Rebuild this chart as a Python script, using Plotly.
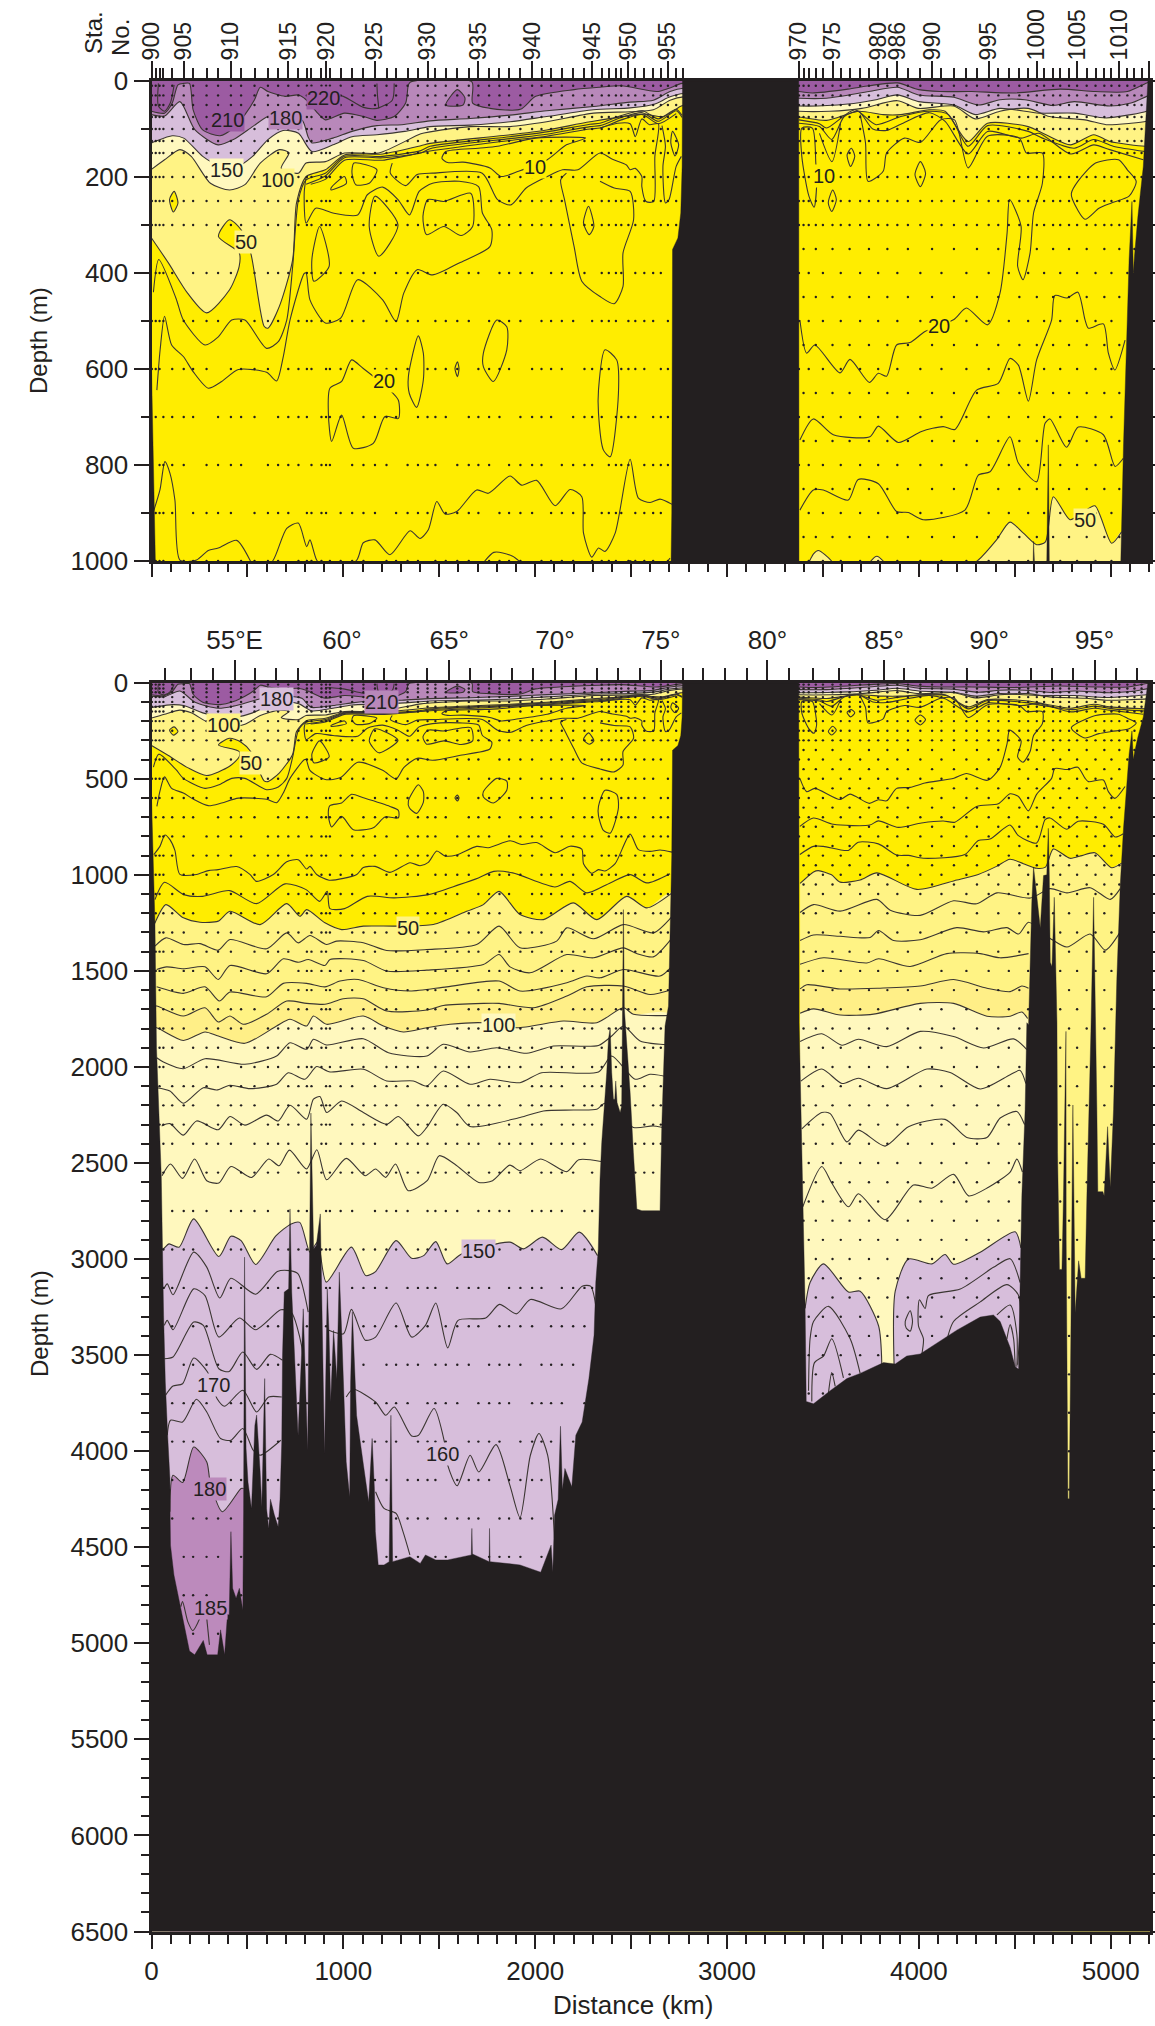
import numpy as np
import plotly.graph_objects as go

W, H = 1155, 2026
INK = "#231F20"
C_DEEP, C_MID, C_LILAC, C_CREAM, C_LT, C_LT2, C_YEL, C_P180 = (
    "#9C5BA2", "#B888BA", "#D7BEDB", "#FFF8BE", "#FFF384", "#FFEF87", "#FFED00", "#BC8ABC")

# station ticks (km along the section)
station_major_km = [2, 168, 414, 713, 910, 1165, 1439, 1704, 1984, 2297, 2486, 2692,
                    3375, 3550, 3788, 3888, 4069, 4364, 4615, 4825, 5045, 5198]
station_major_txt = ["900", "905", "910", "915", "920", "925", "930", "935", "940", "945", "950", "955",
                     "970", "975", "980", "986", "990", "995", "1000", "1005", "1010", "1014"]
station_minor_km = [22, 42, 62, 108, 217, 287, 347, 467, 537, 607, 660, 766, 810, 834, 886, 930, 986, 1046, 1105,
                    1225, 1275, 1335, 1389, 1480, 1534, 1594, 1654, 1760, 1814, 1864, 1923, 2033, 2083, 2139, 2198,
                    2257, 2347, 2384, 2421, 2449, 2522, 2569, 2615, 2655, 2735, 2772,
                    3399, 3426, 3463, 3500, 3593, 3639, 3694, 3740, 3836, 3943, 4008, 4118, 4183, 4248, 4303,
                    4414, 4469, 4524, 4570, 4653, 4700, 4737, 4783, 4875, 4921, 4967, 5004, 5087, 5124, 5161]
lon_major_km = [433, 993, 1552, 2103, 2655, 3211, 3819, 4367, 4916]
lon_major_txt = ["55°E", "60°", "65°", "70°", "75°", "80°", "85°", "90°", "95°"]
lon_minor_km = [72, 207, 321, 541, 650, 762, 880, 1101, 1211, 1325, 1438, 1658, 1770, 1879, 1987, 2212, 2322, 2433,
                2544, 2768, 2877, 2990, 3103, 3324, 3449, 3585, 3703, 3925, 4036, 4146, 4250, 4473, 4584, 4695,
                4806, 5027, 5137]

# sea floor (km, m)
bottom_km = [0, 5, 12, 18, 26, 36, 51, 63, 72, 85, 96, 97, 99, 117, 153, 198, 225, 250, 270, 290, 320, 345, 360, 381,
             396, 405, 414, 423, 441, 458, 476, 480, 485, 493, 503, 521, 539, 548, 566, 575, 590, 600, 611, 620, 640,
             660, 670, 679, 683, 692, 715, 722, 731, 745, 764, 782, 791, 814, 830, 831, 845, 859, 880, 889, 902, 916,
             925, 934, 949, 966, 979, 993, 1015, 1033, 1038, 1047, 1069, 1105, 1132, 1150, 1162, 1167, 1182, 1212,
             1239, 1248, 1257, 1347, 1401, 1428, 1482, 1544, 1667, 1670, 1673, 1760, 1762, 1765, 1921, 2029, 2083,
             2092, 2101, 2120, 2132, 2142, 2155, 2191, 2212, 2245, 2280, 2307, 2316, 2329, 2334, 2338, 2347, 2364,
             2373, 2382, 2391, 2399, 2408, 2415, 2420, 2427, 2443, 2451, 2455, 2460, 2465, 2477, 2495, 2512, 2530,
             2556, 2651, 2660, 2677, 2695, 2705, 2712, 2716, 2744, 2759, 2766, 2768, 3374,
             3376, 3390, 3395, 3407, 3413, 3451, 3538, 3625, 3694, 3816, 3877, 3937, 4007, 4094, 4198, 4320, 4389,
             4424, 4476, 4502, 4520, 4528, 4537, 4554, 4563, 4572, 4589, 4598, 4633, 4650, 4667, 4675, 4680, 4685,
             4694, 4706, 4720, 4723, 4733, 4746, 4754, 4767, 4768, 4777, 4784, 4793, 4803, 4815, 4827, 4833, 4846,
             4867, 4876, 4885, 4897, 4911, 4923, 4928, 4933, 4959, 4966, 4977, 4984, 4998, 5015, 5032, 5050, 5067,
             5085, 5096, 5111, 5118, 5124, 5142, 5170, 5188, 5194, 5210]
bottom_m = [600, 800, 1050, 1250, 1900, 2200, 2566, 3293, 3640, 3934, 4142, 4333, 4489, 4644, 4818, 5040, 5060, 5020,
            4985, 5060, 5060, 5060, 4930, 5060, 4850, 4852, 4419, 4714, 4765, 4714, 4826, 4315, 2990, 3986, 4160, 4298,
            3865, 3812, 4100, 4290, 3622, 4300, 4402, 4250, 4330, 4393, 4250, 3952, 3500, 3172, 3155, 2739, 3172, 3500,
            3917, 3500, 3259, 3995, 2462, 2240, 2947, 2930, 2765, 3207, 4012, 3155, 3371, 3744, 3371, 3623, 3068, 3423,
            4055, 4237, 3640, 3276, 3813, 4073, 4263, 3934, 4194, 4419, 4592, 4592, 4575, 3813, 4575, 4549, 4584, 4540,
            4566, 4566, 4540, 4402, 4535, 4575, 4402, 4575, 4592, 4630, 4489, 4627, 4333, 4250, 3870, 4200, 4090, 4185,
            3917, 3848, 3623, 3397, 3120, 2947, 2600, 2584, 2393, 2168, 2029, 1856, 1796, 2029, 2168, 2168, 2073, 2185,
            2237, 2203, 1787, 1181, 1700, 1856, 2133, 2445, 2740, 2748, 2748, 2307, 1787, 1683, 1100, 900, 351, 327,
            275, 178, 0, 0,
            1770, 2446, 2784, 3235, 3741, 3753, 3685, 3622, 3595, 3539, 3546, 3505, 3494, 3437, 3370, 3302, 3291,
            3325, 3460, 3561, 3572, 3122, 2671, 2221, 1770, 1781, 1139, 959, 1275, 1004, 1000, 758, 1000, 1455,
            1477, 1117, 1770, 2446, 3054, 3054, 2671, 1815, 2897, 4248, 4248, 3347, 2198, 3280, 3122, 3009, 3100,
            3100, 2671, 2221, 1815, 1117, 1815, 2221, 2649, 2649, 2671, 2446, 2311, 2626, 2221, 1545, 1049, 756,
            520, 372, 251, 400, 365, 282, 178, 39, 0, 0]

# colour band edges in the upper layer (km, m): west part followed by east part
b210_km = [0, 68, 108, 138, 168, 198, 217, 267, 357, 427, 487, 537, 567, 607, 696, 766, 806, 866, 906, 1006, 1105, 1175,
           1265, 1325, 1339, 1350, 1670, 1674, 1764, 1923, 2003, 2203, 2338, 2449, 2634, 2698, 2768,
           3375, 3445, 3630, 3740, 3888, 3999, 4109, 4275, 4497, 4737, 4921, 5087, 5188, 5205]
b210_m = [63, 67, 46, 8, 5, 5, 60, 102, 114, 98, 70, 39, 13, 22, 32, 29, 39, 67, 81, 67, 74, 82,
          74, 46, 8, 2, 2, 46, 57, 59, 32, 18, 13, 10, 22, 15, 5,
          22, 25, 17, 10, 4, 18, 22, 22, 25, 17, 22, 22, 4, 2]
b180_km = [0, 68, 148, 227, 347, 427, 527, 607, 696, 786, 816, 836, 946, 1045, 1175, 1305, 1452, 1661, 1869, 2060, 2304,
           2495, 2616, 2703, 2773, 3375, 3519, 3740, 3888, 3999, 4183, 4312, 4423, 4552, 4700, 4810, 4995, 5106, 5188, 5205]
b180_m = [70, 73, 43, 102, 133, 122, 95, 74, 70, 82, 116, 129, 119, 105, 93, 91, 83, 78, 71, 62, 53, 44, 40, 22, 15,
          36, 36, 22, 13, 29, 34, 50, 39, 39, 51, 43, 52, 46, 32, 30]
b150_km = [0, 18, 108, 168, 267, 347, 447, 527, 607, 686, 766, 836, 946, 1045, 1175, 1320, 1452, 1661, 1869, 2060, 2304,
           2495, 2616, 2703, 2773, 3375, 3630, 3777, 3888, 3999, 4183, 4294, 4423, 4626, 4810, 4976, 5106, 5188, 5205]
b150_m = [129, 126, 114, 119, 157, 175, 178, 157, 122, 103, 109, 147, 133, 116, 112, 105, 95, 92, 85, 74, 60, 56, 49,
          33, 26, 52, 48, 39, 29, 43, 50, 70, 57, 67, 67, 77, 70, 63, 60]
b100_km = [0, 68, 148, 207, 307, 407, 487, 567, 667, 716, 676, 766, 806, 906, 1006, 1185, 1404, 1452, 1661, 1869, 2060,
           2304, 2495, 2616, 2703, 2773, 3375, 3537, 3703, 3888, 3999, 4183, 4294, 4423, 4570, 4681, 4866, 4976, 5106,
           5188, 5205]
b100_m = [184, 164, 143, 157, 213, 227, 216, 171, 143, 150, 182, 192, 171, 168, 150, 150, 110, 106, 95, 95, 85, 67, 64,
          60, 40, 33, 63, 63, 57, 41, 57, 52, 79, 63, 57, 74, 81, 91, 88, 84, 82]
b50_km = [0, 88, 188, 287, 407, 457, 457, 349, 407, 467, 517, 587, 607, 667, 736, 756, 806, 906, 1006, 1205, 1404, 1452,
          1869, 2060, 2286, 2564, 2669, 2756, 2773, 3375, 3519, 3685, 3814, 3906, 4054, 4137, 4257, 4358, 4570, 4663,
          4792, 4912, 4995, 5179, 5205]
b50_m = [327, 379, 442, 483, 435, 386, 358, 324, 289, 310, 358, 511, 515, 469, 372, 254, 199, 185, 154, 152, 135, 130,
         112, 102, 85, 69, 74, 53, 51, 75, 82, 63, 70, 70, 60, 63, 126, 88, 95, 112, 133, 112, 126, 136, 136]

# deep colour band edges
d50w_km = [0, 18, 75, 166, 253, 348, 409, 566, 705, 774, 809, 904, 991, 1104, 1278, 1469, 1643, 1730, 1812, 1921, 2043,
           2199, 2321, 2477, 2582, 2714]
d50w_m = [1300, 1250, 1155, 1224, 1247, 1241, 1190, 1259, 1150, 1216, 1181, 1250, 1285, 1267, 1267, 1259, 1190, 1155,
          1086, 1207, 1233, 1146, 1233, 1112, 1172, 1094]
d50e_km = [3381, 3451, 3476, 3545, 3590, 3694, 3781, 3990, 4198, 4310, 4405, 4475, 4545, 4614, 4660, 4701, 4788, 4850,
           4918, 5005, 5057]
d50e_m = [1045, 985, 978, 1000, 1038, 1027, 990, 1076, 1027, 998, 956, 919, 942, 966, 960, 866, 914, 900, 885, 963, 939]
d90w_km = [0, 27, 166, 279, 348, 409, 479, 600, 705, 809, 904, 1000, 1104, 1226, 1435, 1521, 1730, 1812, 1991, 2165, 2269,
           2460, 2599, 2714]
d90w_m = [1683, 1683, 1735, 1692, 1766, 1735, 1778, 1726, 1657, 1669, 1674, 1645, 1645, 1709, 1704, 1680, 1669, 1669,
          1692, 1631, 1583, 1579, 1623, 1597]
d90e_km = [3381, 3416, 3590, 3798, 4007, 4181, 4355, 4476, 4537, 4572]
d90e_m = [1594, 1572, 1594, 1590, 1579, 1545, 1590, 1608, 1579, 1590]
d100w_km = [0, 27, 166, 279, 348, 487, 652, 722, 809, 844, 913, 1104, 1209, 1313, 1435, 1556, 1730, 1904, 2147, 2321,
            2460, 2512, 2714]
d100w_m = [1796, 1796, 1862, 1818, 1839, 1877, 1787, 1752, 1787, 1735, 1778, 1735, 1787, 1818, 1796, 1778, 1770, 1796,
           1761, 1770, 1692, 1726, 1732]
d100e_km = [3381, 3451, 3590, 3764, 4007, 4181, 4355, 4476, 4537, 4567]
d100e_m = [1721, 1698, 1730, 1725, 1669, 1669, 1736, 1736, 1714, 1748]
d150w_km = [0, 60, 91, 144, 220, 351, 414, 467, 543, 647, 728, 773, 826, 866, 911, 1042, 1117, 1168, 1275, 1356, 1419,
            1482, 1541, 1616, 1868, 1939, 2038, 2137, 2230, 2325]
d150w_m = [2960, 2947, 2921, 2938, 2791, 2987, 2881, 2904, 3028, 2881, 2817, 2809, 2964, 2912, 3120, 2938, 3086, 3065,
           2904, 2996, 2982, 2909, 3025, 2973, 2912, 2947, 2886, 2951, 2860, 2982]
d150e1_km = [3407, 3433, 3503, 3633, 3694, 3790, 3807]
d150e1_m = [3257, 3122, 3025, 3172, 3167, 3347, 3550]
d150e2_km = [3871, 3877, 3946, 4068, 4137, 4181, 4320, 4502, 4532]
d150e2_m = [3550, 3167, 3000, 3025, 2976, 3027, 2964, 2858, 2942]
d180_km = [96, 112, 162, 220, 288, 306, 369, 467, 480]
d180_m = [4315, 4125, 4163, 3978, 4056, 4160, 4315, 4194, 4194]

# yellow spot in the light yellow layer, dark purple spot in the top layer
spot_y_km = [118, 138, 114, 94, 118]
spot_y_m = [230, 254, 273, 247, 230]
spot_p_km = [1534, 1594, 1634, 1624, 1534]
spot_p_m = [50, 18, 35, 50, 50]

# plain contours, upper layer west
c40w_km = [10, 38, 128, 166, 279, 348, 418, 487, 600, 661, 705, 736, 766, 806, 906, 1006, 1205, 1404, 1452, 1869, 2060,
           2286, 2338, 2449, 2559, 2642, 2735, 2766]
c40w_m = [440, 372, 453, 498, 550, 533, 498, 498, 557, 543, 498, 386, 247, 206, 192, 157, 157, 145, 136, 116, 106, 90,
          88, 72, 62, 79, 59, 72]
c30w_km = [806, 906, 1006, 1205, 1404, 1452, 1869, 2060, 2286, 2338, 2449, 2559, 2642, 2735, 2766]
c30w_m = [215, 198, 160, 160, 150, 141, 120, 111, 95, 93, 76, 66, 84, 62, 76]
c25w_km = [830, 906, 1006, 1205, 1452, 1869, 2060, 2286, 2338, 2449, 2559, 2642, 2735]
c25w_m = [215, 205, 165, 165, 146, 124, 115, 100, 98, 81, 70, 89, 68]
c20w_km = [28, 45, 68, 105, 166, 218, 296, 366, 453, 600, 652, 687, 722, 796, 806, 826, 906, 986, 1075, 1205, 1275, 1315,
           1385, 1465, 1604, 1764, 1774, 1725, 1705, 1604, 1465, 1395, 1345, 1285, 1205, 1125, 1075, 946, 856, 806, 796, 806]
c20w_m = [644, 560, 490, 550, 574, 606, 640, 626, 601, 607, 625, 574, 498, 401, 400, 456, 504, 494, 414, 456, 501, 442,
          393, 404, 379, 345, 310, 275, 220, 209, 213, 230, 279, 247, 221, 237, 279, 275, 265, 296, 234, 199]
c10a_km = [1514, 1534, 1704, 1804, 2003, 2263, 2163, 2063, 1913, 1823, 1764, 1624, 1544, 1514]
c10a_m = [161, 147, 140, 136, 119, 119, 133, 164, 188, 199, 181, 169, 170, 161]
c15a_km = [1255, 1245, 1325, 1385, 1465, 1724, 1804, 1874, 1953, 2063, 2143, 2223, 2338, 2403, 2476, 2495, 2522, 2556,
           2556, 2578, 2618, 2624, 2642, 2596, 2556, 2522, 2495, 2430, 2338]
c15a_m = [171, 192, 218, 195, 192, 192, 247, 258, 223, 199, 185, 185, 150, 163, 175, 185, 182, 199, 220, 251, 251, 157,
          89, 91, 79, 116, 89, 88, 98]
c15b_km = [2163, 2133, 2153, 2203, 2243, 2338, 2412, 2458, 2458, 2513, 2495, 2412, 2338]
c15b_m = [192, 206, 247, 345, 417, 449, 464, 428, 358, 289, 230, 223, 209]
c15c_km = [2661, 2679, 2666, 2679, 2698, 2735, 2762]
c15c_m = [93, 136, 178, 254, 247, 178, 157]
loop1_km = [1055, 1175, 1135, 1065, 1045, 1055]
loop1_m = [171, 185, 213, 216, 192, 171]
loop2_km = [936, 1006, 1016, 936, 936]
loop2_m = [223, 199, 213, 227, 223]
loop3_km = [1165, 1285, 1185, 1135, 1165]
loop3_m = [240, 300, 365, 303, 240]
loop4_km = [1415, 1441, 1524, 1664, 1674, 1614, 1524, 1434, 1415]
loop4_m = [282, 247, 251, 234, 303, 322, 303, 320, 282]
loop5_km = [876, 926, 846, 836, 876]
loop5_m = [303, 386, 417, 372, 303]
loop6_km = [2278, 2306, 2282, 2252, 2278]
loop6_m = [261, 303, 320, 296, 261]
loop7_km = [2716, 2748, 2729, 2707, 2716]
loop7_m = [105, 133, 156, 129, 105]
loop8_km = [930, 991, 1043, 1104, 1243, 1287, 1287, 1217, 1156, 1052, 991, 939, 922, 930]
loop8_m = [640, 626, 581, 599, 644, 665, 703, 699, 755, 765, 696, 751, 692, 640]
loop9_km = [2330, 2364, 2425, 2434, 2391, 2356, 2330, 2330]
loop9_m = [644, 560, 581, 651, 783, 769, 692, 644]
loop10_km = [1730, 1800, 1852, 1852, 1782, 1730, 1730]
loop10_m = [567, 498, 512, 560, 626, 595, 567]
loop11_km = [1339, 1391, 1417, 1417, 1382, 1344, 1339]
loop11_m = [616, 531, 567, 623, 680, 651, 616]
loop12_km = [1582, 1595, 1603, 1595, 1582]
loop12_m = [599, 585, 599, 616, 599]
c220a_km = [905, 1000, 1105, 1175, 1255, 1265]
c220a_m = [25, 32, 55, 57, 40, 5]
c220b_km = [1175, 1178, 1185]
c220b_m = [5, 30, 57]
c220c_km = [36, 36, 68, 98, 118]
c220c_m = [5, 52, 63, 46, 8]

# plain contours around 30-40 in the upper and mid layer
c30d_km = [12, 44, 70, 96, 122, 148, 235, 296, 348, 444, 513, 547, 635, 705, 765, 809, 826, 861, 926, 1070, 1104, 1165,
           1243, 1348, 1400, 1443, 1487, 1530, 1591, 1695, 1756, 1869, 1930, 2008, 2104, 2182, 2243, 2252, 2295, 2330,
           2364, 2417, 2495, 2538, 2599, 2651, 2714]
c30d_m = [895, 852, 793, 817, 873, 998, 998, 978, 973, 957, 998, 1034, 998, 932, 921, 970, 956, 998, 1028, 998, 962, 956,
          987, 937, 953, 935, 876, 902, 897, 852, 859, 823, 842, 832, 885, 851, 866, 942, 992, 973, 980, 942, 788, 869,
          878, 871, 882]
c40d_km = [18, 68, 168, 267, 407, 547, 696, 806, 876, 916, 930, 1006, 1125, 1265, 1444, 1604, 1704, 1784, 1883, 2103,
           2182, 2269, 2391, 2495, 2582, 2703]
c40d_m = [1129, 1039, 1103, 1112, 1082, 1150, 1047, 1077, 1138, 1086, 1176, 1176, 1112, 1120, 1103, 1051, 1016, 982, 990,
          1063, 1034, 1094, 1042, 999, 1042, 994]

# deep plain contours, west
c60w_km = [18, 75, 166, 253, 348, 409, 600, 705, 765, 826, 913, 965, 1104, 1226, 1435, 1695, 1812, 1921, 2112, 2165, 2304,
           2460, 2616, 2714]
c60w_m = [1371, 1328, 1363, 1358, 1392, 1337, 1385, 1302, 1354, 1316, 1363, 1345, 1354, 1394, 1389, 1363, 1267, 1380,
          1345, 1276, 1333, 1259, 1302, 1216]
c70w_km = [27, 79, 166, 279, 348, 409, 600, 687, 765, 818, 904, 931, 1104, 1226, 1435, 1730, 1812, 1869, 1973, 2165, 2304,
           2460, 2529, 2616, 2714]
c70w_m = [1493, 1479, 1489, 1479, 1545, 1472, 1515, 1437, 1455, 1441, 1472, 1441, 1446, 1501, 1496, 1467, 1415, 1479,
          1510, 1415, 1432, 1380, 1410, 1427, 1328]
c80w_km = [27, 166, 279, 354, 409, 600, 687, 809, 904, 983, 1078, 1209, 1348, 1539, 1812, 1921, 2165, 2269, 2338, 2460,
           2651, 2714]
c80w_m = [1583, 1617, 1583, 1657, 1610, 1635, 1565, 1565, 1583, 1553, 1545, 1588, 1605, 1583, 1553, 1605, 1562, 1527,
          1536, 1493, 1527, 1475]
c110w_km = [27, 62, 166, 279, 487, 652, 722, 809, 844, 913, 1104, 1235, 1435, 1521, 1660, 1800, 1956, 2095, 2330, 2399,
            2460, 2547, 2714]
c110w_m = [1952, 1974, 2009, 1957, 1986, 1943, 1874, 1908, 1856, 1886, 1853, 1926, 1943, 1882, 1922, 1900, 1929, 1891,
           1888, 1839, 1787, 1865, 1886]
c120w_km = [27, 96, 166, 270, 340, 409, 513, 652, 713, 800, 861, 931, 1104, 1226, 1365, 1435, 1521, 1660, 1765, 1921, 2034,
            2330, 2399, 2521, 2599, 2714]
c120w_m = [2108, 2125, 2189, 2108, 2120, 2095, 2113, 2090, 2030, 2064, 1998, 2026, 2012, 2073, 2073, 2099, 2021, 2090,
           2064, 2082, 2030, 2026, 1943, 2064, 2038, 2056]
c130w_km = [53, 96, 166, 235, 348, 409, 487, 600, 661, 722, 809, 844, 878, 913, 991, 1104, 1226, 1287, 1391, 1435, 1521,
            1591, 1660, 1921, 2043, 2199, 2321, 2364, 2512, 2616, 2714]
c130w_m = [2307, 2295, 2355, 2281, 2327, 2258, 2303, 2251, 2281, 2199, 2272, 2168, 2154, 2237, 2177, 2237, 2298, 2258,
           2359, 2315, 2194, 2237, 2310, 2263, 2229, 2224, 2220, 2189, 2315, 2307, 2324]
c140w_km = [55, 99, 162, 225, 288, 351, 414, 521, 611, 665, 719, 808, 862, 913, 1015, 1114, 1168, 1221, 1272, 1338, 1437,
            1500, 1580, 1706, 1778, 1868, 1921, 2029, 2164, 2227, 2343]
c140w_m = [2566, 2505, 2580, 2479, 2592, 2604, 2518, 2575, 2479, 2514, 2433, 2531, 2431, 2587, 2476, 2566, 2531, 2575,
           2505, 2644, 2592, 2462, 2505, 2601, 2592, 2511, 2540, 2479, 2545, 2483, 2492]
c155w_km = [64, 82, 112, 220, 288, 356, 414, 543, 656, 719, 764, 817]
c155w_m = [3155, 3129, 3186, 2964, 3042, 3203, 3100, 3183, 3065, 3060, 3077, 3276]
c160w_km = [67, 82, 112, 220, 279, 351, 458, 543, 674, 728, 782, 796]
c160w_m = [3345, 3319, 3368, 3155, 3190, 3406, 3307, 3368, 3264, 3276, 3449, 3623]
c165w_km = [67, 112, 220, 270, 351, 405, 476, 548, 620, 683]
c165w_m = [3519, 3510, 3328, 3345, 3571, 3585, 3484, 3574, 3496, 3527]
c170w_km = [73, 112, 162, 220, 292, 342, 381, 476, 548, 611, 679]
c170w_m = [3709, 3661, 3649, 3515, 3588, 3727, 3766, 3683, 3796, 3718, 3718]
c175w_km = [82, 99, 162, 234, 288, 360, 414, 476, 530, 566, 674]
c175w_m = [3917, 3839, 3848, 3730, 3796, 3934, 3943, 3882, 3995, 4021, 3943]
c185a_km = [153, 162, 189, 216, 252]
c185a_m = [4809, 4783, 4887, 4934, 4870]
c185b_km = [288, 302]
c185b_m = [4870, 5008]
c155r_km = [925, 1001, 1042, 1114, 1168, 1275, 1356, 1428, 1482, 1544, 1598, 1742, 1814, 1903, 1975, 2137, 2245, 2289, 2316]
c155r_m = [3371, 3389, 3262, 3422, 3406, 3229, 3406, 3345, 3229, 3462, 3319, 3307, 3236, 3285, 3210, 3259, 3141, 3141, 3242]
c160r_km = [1015, 1051, 1168, 1221, 1266, 1356, 1392, 1473, 1527, 1544, 1593, 1661, 1706, 1796, 1868, 1921, 1975, 2020, 2065, 2101]
c160r_m = [3718, 3678, 3744, 3813, 3770, 3921, 3917, 3778, 3952, 4073, 4180, 4021, 4108, 3966, 4177, 4346, 4021, 3908, 4021, 4454]
c165r_km = [1168, 1212, 1275, 1311, 1347]
c165r_m = [4211, 4298, 4324, 4419, 4540]

# east contours
e40_km = [3375, 3482, 3519, 3666, 3777, 3906, 4054, 4155, 4257, 4358, 4570, 4644, 4810, 4912, 5013, 5179]
e40_m = [81, 89, 98, 60, 91, 74, 63, 70, 136, 93, 105, 119, 140, 122, 136, 147]
e30_km = [3375, 3482, 3546, 3611, 3685, 3760, 3832, 3906, 4054, 4137, 4257, 4358, 4534, 4626, 4792, 4912, 4995, 5170]
e30_m = [88, 95, 122, 74, 63, 100, 103, 90, 66, 84, 152, 105, 119, 109, 152, 133, 143, 164]
e20_km = [3380, 3415, 3458, 3589, 3641, 3742, 3789, 3832, 3884, 3954, 4032, 4183, 4248, 4358, 4423, 4460, 4473, 4533, 4515,
          4543, 4580, 4598, 4644, 4644, 4561, 4524, 4358, 4257, 4186, 4113, 4008, 3925, 3832, 3814, 3735, 3722, 3694]
e20_m = [498, 567, 550, 608, 580, 628, 609, 615, 550, 545, 522, 497, 473, 508, 442, 317, 247, 303, 386, 414, 358, 275, 213,
         150, 150, 119, 115, 181, 81, 81, 128, 119, 150, 188, 209, 129, 70]
e25_km = [3380, 3450, 3554, 3745, 3789, 3893, 4014, 4127, 4188, 4301, 4414, 4475, 4519, 4571, 4614, 4692, 4709, 4773, 4829,
          4866, 4884, 4962, 4988, 5022, 5075]
e25_m = [748, 704, 737, 741, 719, 753, 730, 720, 726, 644, 630, 578, 592, 667, 581, 498, 447, 452, 440, 497, 515, 506, 567,
         602, 540]
e35_km = [3380, 3450, 3502, 3632, 3684, 3789, 3884, 3945, 4023, 4240, 4310, 4371, 4475, 4519, 4614, 4658, 4684, 4770, 4831,
          4962, 5023, 5066]
e35_m = [894, 852, 852, 873, 830, 839, 897, 899, 914, 894, 821, 814, 741, 796, 835, 713, 704, 763, 721, 737, 803, 786]
e10a_km = [3390, 3390, 3445, 3463, 3467, 3454, 3427, 3390]
e10a_m = [157, 98, 98, 171, 220, 263, 240, 157]
e10b_km = [3482, 3547, 3592]
e10b_m = [109, 168, 88]
eloop1_km = [4801, 4866, 4939, 5004, 5096, 5133, 5087, 5041, 4921, 4829, 4795, 4801]
eloop1_m = [247, 288, 265, 254, 240, 209, 185, 164, 171, 209, 234, 247]
eloop2_km = [3980, 4008, 4035, 4008, 3980]
eloop2_m = [195, 168, 192, 220, 195]
eloop3_km = [3626, 3648, 3666, 3644, 3626]
eloop3_m = [154, 140, 157, 178, 154]
eloop4_km = [3528, 3551, 3570, 3546, 3528]
eloop4_m = [254, 227, 247, 272, 254]
e60_km = [3381, 3451, 3590, 3781, 3851, 4007, 4181, 4302, 4407, 4581, 4685, 4772, 4893, 4998, 5050]
e60_m = [1196, 1155, 1189, 1128, 1184, 1211, 1135, 1151, 1094, 1121, 1072, 1094, 1067, 1128, 1072]
e70_km = [3381, 3451, 3590, 3746, 3790, 3868, 4007, 4198, 4337, 4459, 4520, 4572, 4685, 4772, 4893, 4972, 5050]
e70_m = [1342, 1313, 1320, 1326, 1290, 1342, 1338, 1275, 1297, 1275, 1308, 1247, 1331, 1376, 1308, 1392, 1297]
e80_km = [3381, 3503, 3729, 3790, 3955, 4146, 4320, 4424, 4572]
e80_m = [1466, 1432, 1459, 1437, 1477, 1410, 1410, 1432, 1410]
e110_km = [3381, 3494, 3599, 3685, 3833, 4007, 4181, 4337, 4494, 4563]
e110_m = [1867, 1827, 1887, 1856, 1894, 1815, 1842, 1901, 1854, 1910]
e120_km = [3385, 3494, 3599, 3685, 3833, 4042, 4163, 4320, 4476, 4528, 4558]
e120_m = [2074, 2011, 2086, 2059, 2113, 2011, 2029, 2115, 2041, 2018, 2086]
e130_km = [3390, 3494, 3538, 3625, 3685, 3824, 3946, 4137, 4250, 4355, 4424, 4511, 4551]
e130_m = [2322, 2237, 2243, 2390, 2329, 2412, 2311, 2273, 2367, 2367, 2266, 2232, 2300]
e140_km = [3395, 3494, 3546, 3633, 3685, 3824, 3972, 4068, 4181, 4259, 4363, 4476, 4511, 4540]
e140_m = [2728, 2518, 2604, 2728, 2660, 2795, 2615, 2631, 2559, 2671, 2626, 2547, 2480, 2547]
e155a_km = [3425, 3433, 3451, 3529, 3642, 3694]
e155a_m = [3685, 3415, 3325, 3246, 3415, 3595]
e160a_km = [3442, 3456, 3503, 3546, 3607]
e160a_m = [3741, 3539, 3505, 3415, 3618]
e165a_km = [3529, 3546, 3564]
e165a_m = [3697, 3591, 3663]
e155l_km = [3929, 3955, 3967, 3955, 3934, 3929]
e155l_m = [3325, 3269, 3325, 3375, 3359, 3325]
e155b_km = [4016, 4024, 3998, 4003, 4033, 4050, 4216, 4389, 4476, 4528]
e155b_m = [3494, 3415, 3347, 3212, 3257, 3190, 3156, 3043, 2998, 3122]
e160b_km = [4137, 4181, 4320, 4459, 4520, 4515]
e160b_m = [3460, 3325, 3223, 3133, 3190, 3550]
e165b_km = [4407, 4476, 4511, 4511]
e165b_m = [3291, 3239, 3392, 3561]
e170b_km = [4459, 4476, 4494, 4502]
e170b_m = [3415, 3341, 3415, 3561]

# bottle depths
rows_upper = [10, 30, 50, 75, 100, 125, 150, 200, 250, 300, 400, 500]
rows_west = [600, 700, 800, 900, 1000, 1100, 1200, 1300, 1400, 1500, 1600, 1700, 1800, 1900, 2000, 2100, 2200, 2300, 2400,
             2550, 2750, 2950, 3150, 3350, 3550, 3750, 3950, 4150, 4350, 4550, 4750, 4950]
rows_east_a = [400, 500, 600, 700, 800, 900, 1000, 1100, 1300, 1500, 1700, 1900, 2100, 2300, 2500, 2700, 2900, 3100, 3300,
               3500, 3700, 3900, 4100]
rows_east_b = [350, 450, 550, 650, 750, 850, 950, 1050, 1200, 1400, 1600, 1800, 2000, 2200, 2400, 2600, 2800, 3000, 3200,
               3400, 3600, 3800, 4000, 4200]

# contour labels: text, km, m, background
labels_top = [("220", 895, 35, C_DEEP), ("210", 397, 81, C_DEEP), ("180", 700, 78, C_MID), ("150", 390, 185, C_CREAM),
              ("100", 659, 207, C_LT), ("10", 2000, 180, C_YEL), ("50", 491, 336, C_LT), ("20", 1211, 624, C_YEL),
              ("10", 3504, 197, C_YEL), ("20", 4105, 511, C_YEL), ("50", 4865, 914, C_LT)]
labels_low = [("180", 653, 87, C_LILAC), ("100", 377, 222, C_LT), ("210", 1198, 101, C_MID), ("50", 518, 417, C_LT),
              ("50", 1339, 1279, C_LT), ("100", 1810, 1783, C_CREAM), ("150", 1706, 2956, C_LILAC),
              ("170", 324, 3654, C_LILAC), ("160", 1518, 4016, C_LILAC), ("180", 302, 4198, C_P180),
              ("185", 306, 4814, C_P180)]

fills = [
    (b210_km, b210_m, C_MID), (spot_p_km, spot_p_m, C_DEEP, True),
    (b180_km, b180_m, C_LILAC), (b150_km, b150_m, C_CREAM), (b100_km, b100_m, C_LT), (b50_km, b50_m, C_YEL),
    (spot_y_km, spot_y_m, C_YEL, True),
    (d50w_km, d50w_m, C_LT), (d50e_km, d50e_m, C_LT), (d90w_km, d90w_m, C_LT2), (d90e_km, d90e_m, C_LT2),
    (d100w_km, d100w_m, C_CREAM), (d100e_km, d100e_m, C_CREAM),
    (d150w_km, d150w_m, C_LILAC), (d150e1_km, d150e1_m, C_LILAC), (d150e2_km, d150e2_m, C_LILAC),
    (d180_km, d180_m, C_P180),
]
lines = [
    (b210_km, b210_m), (b180_km, b180_m), (b150_km, b150_m), (b100_km, b100_m), (b50_km, b50_m),
    (spot_y_km, spot_y_m), (spot_p_km, spot_p_m),
    (d50w_km, d50w_m), (d50e_km, d50e_m), (d90w_km, d90w_m), (d90e_km, d90e_m), (d100w_km, d100w_m), (d100e_km, d100e_m),
    (d150w_km, d150w_m), (d150e1_km, d150e1_m), (d150e2_km, d150e2_m), (d180_km, d180_m),
    (c40w_km, c40w_m), (c30w_km, c30w_m), (c25w_km, c25w_m), (c20w_km, c20w_m), (c10a_km, c10a_m), (c15a_km, c15a_m),
    (c15b_km, c15b_m), (c15c_km, c15c_m), (loop1_km, loop1_m), (loop2_km, loop2_m), (loop3_km, loop3_m),
    (loop4_km, loop4_m), (loop5_km, loop5_m), (loop6_km, loop6_m), (loop7_km, loop7_m), (loop8_km, loop8_m),
    (loop9_km, loop9_m), (loop10_km, loop10_m), (loop11_km, loop11_m), (loop12_km, loop12_m),
    (c220a_km, c220a_m), (c220b_km, c220b_m), (c220c_km, c220c_m), (c30d_km, c30d_m), (c40d_km, c40d_m),
    (c60w_km, c60w_m), (c70w_km, c70w_m), (c80w_km, c80w_m), (c110w_km, c110w_m), (c120w_km, c120w_m),
    (c130w_km, c130w_m), (c140w_km, c140w_m), (c155w_km, c155w_m), (c160w_km, c160w_m), (c165w_km, c165w_m),
    (c170w_km, c170w_m), (c175w_km, c175w_m), (c185a_km, c185a_m), (c185b_km, c185b_m), (c155r_km, c155r_m),
    (c160r_km, c160r_m), (c165r_km, c165r_m),
    (e40_km, e40_m), (e30_km, e30_m), (e20_km, e20_m), (e25_km, e25_m), (e35_km, e35_m), (e10a_km, e10a_m),
    (e10b_km, e10b_m), (eloop1_km, eloop1_m), (eloop2_km, eloop2_m), (eloop3_km, eloop3_m), (eloop4_km, eloop4_m),
    (e60_km, e60_m), (e70_km, e70_m), (e80_km, e80_m), (e110_km, e110_m), (e120_km, e120_m), (e130_km, e130_m),
    (e140_km, e140_m), (e155a_km, e155a_m), (e160a_km, e160a_m), (e165a_km, e165a_m), (e155l_km, e155l_m),
    (e155b_km, e155b_m), (e160b_km, e160b_m), (e165b_km, e165b_m), (e170b_km, e170b_m),
]

# bottle positions: every station at its depths, kept only when above the sea floor
stations = sorted(station_major_km + station_minor_km)
dot_x, dot_y = [], []
for i, s in enumerate(stations):
    if s < 3000:
        rows = rows_upper + rows_west
    else:
        rows = rows_upper[:10] + (rows_east_a if i % 2 == 0 else rows_east_b)
    floor = np.interp(s, bottom_km, bottom_m)
    for j, r in enumerate(rows):
        if r < floor - 10:
            # the deeper bottles of the western stations are not at every station
            if s < 3000 and r >= 400 and (i + j) % 5 == 0:
                continue
            dot_x.append(s)
            dot_y.append(r)

XMAX = 5205
FAR = 9000
fig = go.Figure()
for xa, ya in (("x", "y"), ("x2", "y2")):
    # deepest purple behind everything
    fig.add_trace(go.Scatter(x=[0, XMAX, XMAX, 0], y=[-10, -10, FAR, FAR], xaxis=xa, yaxis=ya, mode="lines",
                             line=dict(width=0), fill="toself", fillcolor=C_DEEP, hoverinfo="skip"))
    for f in fills:
        kx, ky, col = f[0], f[1], f[2]
        if len(f) == 4:
            px, py = kx, ky
        else:
            px, py = list(kx) + [kx[-1], kx[0]], list(ky) + [FAR, FAR]
        fig.add_trace(go.Scatter(x=px, y=py, xaxis=xa, yaxis=ya, mode="lines",
                                 line=dict(width=0, shape="spline", smoothing=0.7), fill="toself", fillcolor=col,
                                 hoverinfo="skip"))
    for kx, ky in lines:
        fig.add_trace(go.Scatter(x=kx, y=ky, xaxis=xa, yaxis=ya, mode="lines",
                                 line=dict(color="#3B3632", width=1.1, shape="spline", smoothing=0.7),
                                 hoverinfo="skip"))
    fig.add_trace(go.Scatter(x=dot_x, y=dot_y, xaxis=xa, yaxis=ya, mode="markers",
                             marker=dict(color=INK, size=2.4), hoverinfo="skip"))
    fig.add_trace(go.Scatter(x=bottom_km + [bottom_km[-1], bottom_km[0]], y=bottom_m + [FAR, FAR], xaxis=xa, yaxis=ya,
                             mode="lines", line=dict(color=INK, width=0.4), fill="toself", fillcolor=INK,
                             hoverinfo="skip"))

# empty traces so the extra frame axes are kept
for xa, ya in (("x3", "y"), ("x", "y3"), ("x4", "y2"), ("x2", "y4")):
    fig.add_trace(go.Scatter(x=[None], y=[None], xaxis=xa, yaxis=ya, mode="markers", hoverinfo="skip"))

ann = []
LBL = dict(family="Liberation Sans, Arial, sans-serif", size=20, color=INK)
for txt, km, m, bg in labels_top:
    ann.append(dict(text=txt, x=km, y=m, xref="x", yref="y", showarrow=False, font=LBL, bgcolor=bg, borderpad=0))
for txt, km, m, bg in labels_low:
    ann.append(dict(text=txt, x=km, y=m, xref="x2", yref="y2", showarrow=False, font=LBL, bgcolor=bg, borderpad=0))


def px_x(p):
    return p / W


def px_y(p):
    return 1 - p / H


def page_text(txt, px, py, size, angle=0):
    ann.append(dict(text=txt, x=px_x(px), y=px_y(py), xref="paper", yref="paper", xanchor="center", yanchor="middle",
                    showarrow=False, textangle=angle,
                    font=dict(family="Liberation Sans, Arial, sans-serif", size=size, color=INK)))


page_text("Depth (m)", 39, 341, 24, -90)
page_text("Depth (m)", 39, 1324, 24, -90)
page_text("Distance (km)", 633, 2005, 26)
page_text("Sta.", 93, 33, 24, -90)
page_text("No.", 120, 38, 24, -90)

XD = [151.5 / W, 1150 / W]
TOPD = [1 - 561 / H, 1 - 81 / H]
LOWD = [1 - 1931.5 / H, 1 - 682.7 / H]
TICKF = dict(family="Liberation Sans, Arial, sans-serif", size=26, color=INK)
frame = dict(showline=True, linecolor=INK, linewidth=3, showgrid=False, zeroline=False, ticks="outside",
             tickcolor=INK, tickfont=TICKF, automargin=False)
minor = lambda vals, n: dict(tickmode="array", tickvals=vals, ticks="outside", ticklen=n, tickwidth=1.5,
                             tickcolor=INK, showgrid=False)
dist_major = list(range(0, 5001, 500))
dist_minor = [v for v in range(0, 5201, 100) if v % 500]
top_major = list(range(0, 1001, 200))
top_minor = list(range(100, 1000, 200))
low_major = list(range(0, 6501, 500))
low_minor = [v for v in range(0, 6501, 100) if v % 500]

fig.update_layout(
    width=W, height=H, autosize=False, margin=dict(l=0, r=0, t=0, b=0, pad=0, autoexpand=False), showlegend=False,
    paper_bgcolor="white", plot_bgcolor="white", hovermode=False, annotations=ann,
    xaxis=dict(frame, domain=XD, range=[0, XMAX], anchor="y", side="top", tickmode="array", tickvals=station_major_km,
               ticktext=station_major_txt, tickangle=-90, ticklen=17, tickwidth=1.6, ticklabelstandoff=-4,
               tickfont=dict(TICKF, size=23), minor=minor(station_minor_km, 10)),
    xaxis3=dict(frame, domain=XD, range=[0, XMAX], anchor="y", overlaying="x", side="bottom", tickmode="array",
                tickvals=dist_major, ticktext=[""] * len(dist_major), ticklen=13, tickwidth=1.5,
                minor=minor(dist_minor, 8)),
    yaxis=dict(frame, domain=TOPD, range=[1000, 0], anchor="x", tickmode="array", tickvals=top_major,
               ticktext=[str(v) for v in top_major], ticklen=15, tickwidth=2, minor=minor(top_minor, 8)),
    yaxis3=dict(frame, domain=TOPD, range=[1000, 0], anchor="x", overlaying="y", side="right", tickmode="array",
                tickvals=top_major, ticktext=[""] * len(top_major), ticklen=8, tickwidth=1.5,
                minor=minor(top_minor, 8)),
    xaxis2=dict(frame, domain=XD, range=[0, XMAX], anchor="y2", side="bottom", tickmode="array", tickvals=dist_major,
                ticktext=[str(v) if v % 1000 == 0 else "" for v in dist_major], ticklen=14, tickwidth=1.5,
                minor=minor(dist_minor, 9)),
    xaxis4=dict(frame, domain=XD, range=[0, XMAX], anchor="y2", overlaying="x2", side="top", tickmode="array",
                tickvals=lon_major_km, ticktext=lon_major_txt, ticklen=20, tickwidth=1.6,
                minor=minor(lon_minor_km, 12)),
    yaxis2=dict(frame, domain=LOWD, range=[6500, 0], anchor="x2", tickmode="array", tickvals=low_major,
                ticktext=[str(v) for v in low_major], ticklen=15, tickwidth=2, minor=minor(low_minor, 8)),
    yaxis4=dict(frame, domain=LOWD, range=[6500, 0], anchor="x2", overlaying="y2", side="right", tickmode="array",
                tickvals=low_major, ticktext=[""] * len(low_major), ticklen=8, tickwidth=1.5,
                minor=minor(low_minor, 8)),
)
fig.write_html("out.html", config=dict(displayModeBar=False),
               post_script="document.body.style.margin='0';document.body.style.overflow='hidden';")
page = open("out.html", encoding="utf-8").read().replace("<body>", '<body style="margin:0;overflow:hidden">', 1)
open("out.html", "w", encoding="utf-8").write(page)
